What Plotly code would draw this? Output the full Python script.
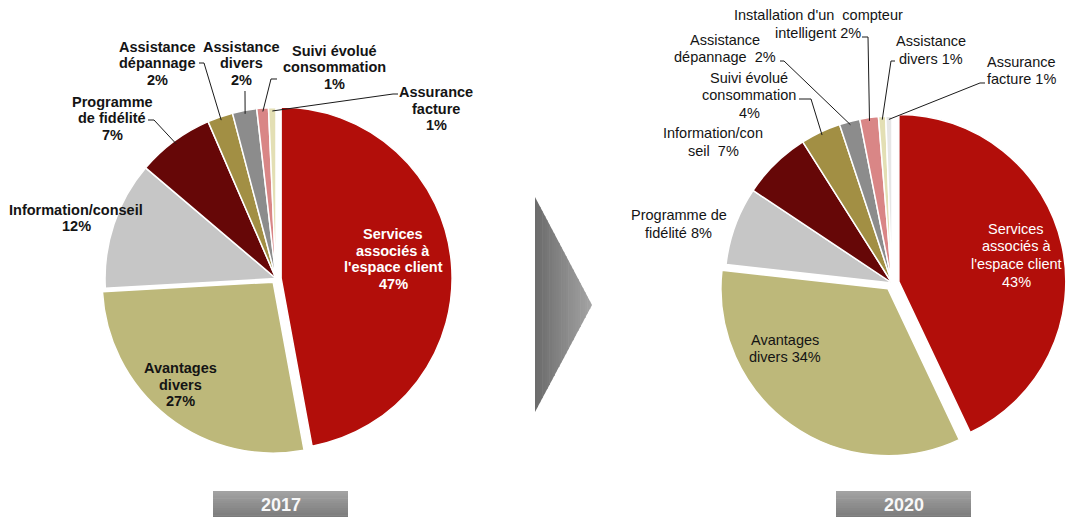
import math
import plotly.graph_objects as go

W, H = 1066, 517

# ---------------- data ----------------
years = ["2017", "2020"]

categories_2017 = [
    "Services associés à l'espace client", "Avantages divers", "Information/conseil",
    "Programme de fidélité", "Assistance dépannage", "Assistance divers",
    "Suivi évolué consommation", "Assurance facture",
]
values_2017 = [47.1, 27.0, 12.1, 7.3, 2.4, 2.3, 1.1, 0.7]

categories_2020 = [
    "Services associés à l'espace client", "Avantages divers", "Programme de fidélité",
    "Information/conseil", "Suivi évolué consommation", "Assistance dépannage",
    "Installation d'un compteur intelligent", "Assistance divers", "Assurance facture",
]
values_2020 = [43.1, 33.9, 7.6, 6.7, 3.9, 2.0, 1.8, 0.7, 0.6]

# label text, split in lines as in the original ({p} = percentage)
label_lines_2017 = [
    ["Services", "associés à", "l'espace client", "{p}"],
    ["Avantages", "divers", "{p}"],
    ["Information/conseil", "{p}"],
    ["Programme", "de fidélité", "{p}"],
    ["Assistance", "dépannage", "{p}"],
    ["Assistance", "divers", "{p}"],
    ["Suivi évolué", "consommation", "{p}"],
    ["Assurance", "facture", "{p}"],
]
label_lines_2020 = [
    ["Services", "associés à", "l'espace client", "{p}"],
    ["Avantages", "divers {p}"],
    ["Programme de", "fidélité {p}"],
    ["Information/con", "seil\u00a0 {p}"],
    ["Suivi évolué", "consommation", "{p}"],
    ["Assistance", "dépannage\u00a0 {p}"],
    ["Installation d'un\u00a0 compteur", "intelligent {p}"],
    ["Assistance", "divers {p}"],
    ["Assurance", "facture {p}"],
]

# ---------------- style / layout ----------------
palette = ["#B20E0A", "#BDB87A", "#C6C6C6", "#660707", "#A28F44",
           "#8C8C8C", "#D98686", "#E3DFB4", "#E6E6E6"]
pulls_2017 = [0.03, 0.027, 0, 0, 0, 0, 0, 0]
pulls_2020 = [0.042, 0.042, 0, 0, 0, 0, 0, 0, 0]

# pie boxes in pixels (x0, x1, y0, y1)
box_2017 = (99.9, 452.1, 102.4, 454.6)
box_2020 = (718, 1066, 109, 457)

FONT = "Liberation Sans, Arial, sans-serif"
TXT = "#141414"

# label positions (centre x, first line y) in pixels, and leader line start points
pos_2017 = [(393, 234), (180, 368), (76, 209.5), (112, 101.7), (157, 46.7),
            (241, 46.7), (334, 50.7), (436, 92.3)]
lead_2017 = {3: [(148, 120), (154, 120)], 4: [(199, 63), (204, 63)],
             5: [(245, 91)], 6: [(277, 79), (271, 79)], 7: [(398, 94), (393, 94)]}
pos_2020 = [(1016, 229), (785, 339.5), (678.5, 215), (713, 133), (749, 78),
            (724.5, 40), (818, 15), (931, 41), (1021, 62)]
lead_2020 = {6: [(862, 37), (868, 37)], 5: [(780, 61), (784, 61)],
             4: [(799, 99), (811, 99)], 7: [(895, 61), (891, 61)],
             8: [(985, 83), (980, 83)]}


def fx(px):
    return px / W


def fy(py):
    return 1 - py / H


def geom(box, pulls):
    x0, x1, y0, y1 = box
    r = min(x1 - x0, y1 - y0) / 2 / (1 + max(pulls))
    return (x0 + x1) / 2, (y0 + y1) / 2, r


def edge_point(box, pulls, vals, i, k=0.98):
    cx, cy, r = geom(box, pulls)
    tot = sum(vals)
    a = (sum(vals[:i]) + vals[i] / 2) / tot * 2 * math.pi
    rr = r * k + pulls[i] * r
    return cx + rr * math.sin(a), cy - rr * math.cos(a)


def pct_text(vals):
    tot = sum(vals)
    return [f"{int(v / tot * 100 + 0.5)}%" for v in vals]


fig = go.Figure()

annotations = []
shapes = []


def add_pie(vals, cats, box, pulls, lines, pos, leads, bold, spacing, white_idx=0):
    n = len(vals)
    x0, x1, y0, y1 = box
    fig.add_trace(go.Pie(
        values=vals, labels=cats, sort=False, direction="clockwise", rotation=0,
        pull=pulls, marker=dict(colors=palette[:n], line=dict(color="white", width=1.5)),
        textinfo="none", hoverinfo="label+percent",
        domain=dict(x=[fx(x0), fx(x1)], y=[fy(y1), fy(y0)]), showlegend=False,
    ))
    pct = pct_text(vals)
    for i in range(n):
        cx, y = pos[i]
        col = "white" if i == white_idx else TXT
        for j, ln in enumerate(lines[i]):
            t = ln.replace("{p}", pct[i])
            if bold:
                t = "<b>" + t + "</b>"
            annotations.append(dict(
                x=fx(cx), y=fy(y + j * spacing), xref="paper", yref="paper",
                text=t, showarrow=False, xanchor="center", yanchor="middle",
                font=dict(family=FONT, size=14.5, color=col)))
        if i in leads:
            pts = list(leads[i]) + [edge_point(box, pulls, vals, i)]
            path = "M " + " L ".join(f"{fx(px):.5f},{fy(py):.5f}" for px, py in pts)
            shapes.append(dict(type="path", xref="paper", yref="paper", path=path,
                               line=dict(color="#1a1a1a", width=1)))


add_pie(values_2017, categories_2017, box_2017, pulls_2017, label_lines_2017,
        pos_2017, lead_2017, True, 16.5)
add_pie(values_2020, categories_2020, box_2020, pulls_2020, label_lines_2020,
        pos_2020, lead_2020, False, 17.5)

# ---- gradient arrow between the pies ----
ax0, ax1, atop, abot, atipy = 535, 592, 197, 412, 305
nstrip = 24


def ytop(x):
    return atop + (x - ax0) * (atipy - atop) / (ax1 - ax0)


def ybot(x):
    return abot - (x - ax0) * (abot - atipy) / (ax1 - ax0)


for s in range(nstrip):
    xa = ax0 + (ax1 - ax0) * s / nstrip
    xb = min(ax1, ax0 + (ax1 - ax0) * (s + 1) / nstrip + 0.6)
    t = s / (nstrip - 1)
    g = int(0x6c + (0xa4 - 0x6c) * t)
    col = f"rgb({g},{g},{g})"
    path = (f"M {fx(xa):.5f},{fy(ytop(xa)):.5f} L {fx(xb):.5f},{fy(ytop(xb)):.5f} "
            f"L {fx(xb):.5f},{fy(ybot(xb)):.5f} L {fx(xa):.5f},{fy(ybot(xa)):.5f} Z")
    shapes.append(dict(type="path", xref="paper", yref="paper", path=path,
                       fillcolor=col, line=dict(width=0), layer="above"))

# ---- year boxes ----
year_boxes = [(213, 348), (836, 971)]
by0, by1 = 491, 520
nb = 12
for (bx0, bx1), yr in zip(year_boxes, years):
    for s in range(nb):
        ya = by0 + (by1 - by0) * s / nb
        yb = by0 + (by1 - by0) * (s + 1) / nb + 0.6
        t = s / (nb - 1)
        g = int(0xa2 + (0x78 - 0xa2) * t)
        shapes.append(dict(type="rect", xref="paper", yref="paper",
                           x0=fx(bx0), x1=fx(bx1), y0=fy(yb), y1=fy(ya),
                           fillcolor=f"rgb({g},{g},{g})", line=dict(width=0)))
    annotations.append(dict(
        x=fx((bx0 + bx1) / 2), y=fy(505), xref="paper", yref="paper",
        text=f"<b>{yr}</b>", showarrow=False, xanchor="center", yanchor="middle",
        font=dict(family=FONT, size=18, color="#F8F8F8")))

fig.update_layout(
    width=W, height=H, margin=dict(l=0, r=0, t=0, b=0),
    paper_bgcolor="white", plot_bgcolor="white",
    showlegend=False, annotations=annotations, shapes=shapes,
)

fig.write_html("out.html")
